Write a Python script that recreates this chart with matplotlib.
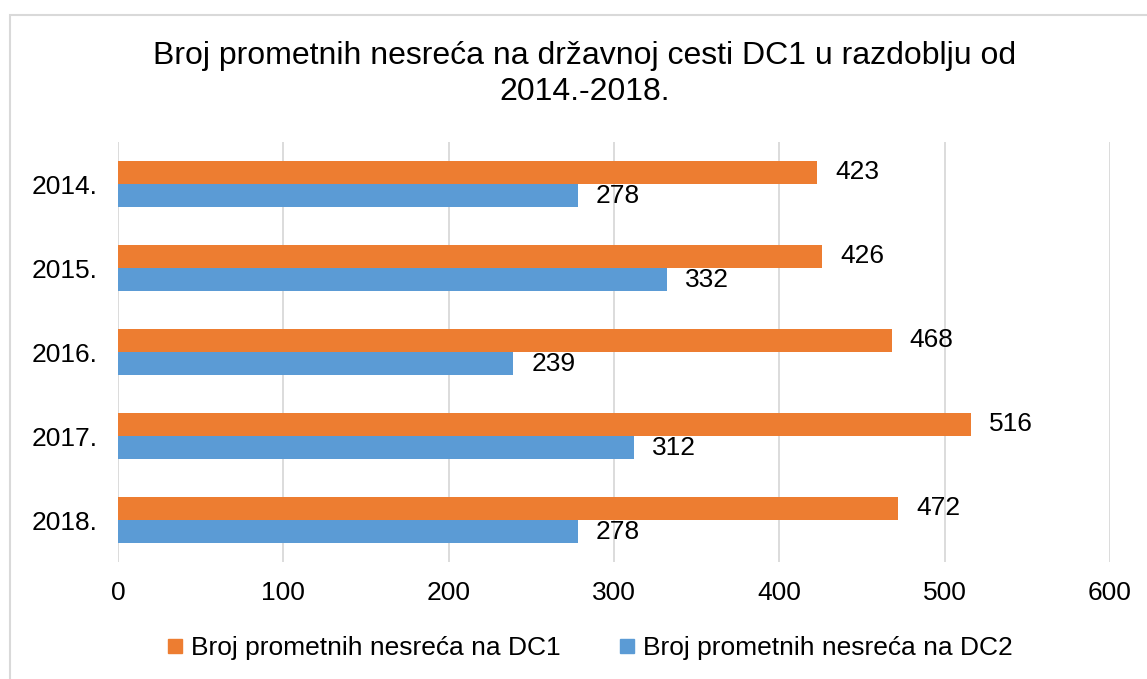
import matplotlib
matplotlib.use("Agg")
import matplotlib.pyplot as plt
from matplotlib.lines import Line2D
from matplotlib.patches import Rectangle

years = ["2014.", "2015.", "2016.", "2017.", "2018."]
dc1 = [423, 426, 468, 516, 472]
dc2 = [278, 332, 239, 312, 278]
series_names = ["Broj prometnih nesreća na DC1", "Broj prometnih nesreća na DC2"]
x_ticks = [0, 100, 200, 300, 400, 500, 600]
title = "Broj prometnih nesreća na državnoj cesti DC1 u razdoblju od\n2014.-2018."

orange = "#ED7D31"
blue = "#5B9BD5"
grid_c = "#D9D9D9"

plt.rcParams['font.family'] = ['Liberation Sans', 'DejaVu Sans']

W, H = 1147, 679
fig = plt.figure(figsize=(W / 100, H / 100), dpi=100)

# outer chart border (extends past right/bottom edges)
fig.patches.append(Rectangle((9.5 / W, -0.1), 1.2, 1 - 14.5 / H + 0.1,
                             transform=fig.transFigure, fill=False,
                             edgecolor="#D9D9D9", linewidth=1.5))

ax = fig.add_axes([118 / W, 1 - 562 / H, (1110 - 118) / W, (562 - 142) / H])
pos = list(range(len(years)))
h = 0.274
ax.barh([p - h / 2 for p in pos], dc1, height=h, color=orange, label=series_names[0], zorder=3)
ax.barh([p + h / 2 for p in pos], dc2, height=h, color=blue, label=series_names[1], zorder=3)

fs = 19
for p, v in zip(pos, dc1):
    ax.annotate(str(v), xy=(v, p - h / 2), xytext=(18, 0), textcoords="offset pixels",
                va="center", ha="left", fontsize=fs)
for p, v in zip(pos, dc2):
    ax.annotate(str(v), xy=(v, p + h / 2), xytext=(18, 0), textcoords="offset pixels",
                va="center", ha="left", fontsize=fs)

ax.set_xlim(0, 600)
ax.set_ylim(len(years) - 0.5, -0.5)
ax.set_xticks(x_ticks)
ax.set_xticklabels([str(t) for t in x_ticks])
ax.set_yticks(pos)
ax.set_yticklabels(years)
ax.tick_params(axis="both", length=0, labelsize=fs)
ax.tick_params(axis="x", pad=14)
ax.tick_params(axis="y", pad=15)
ax.grid(axis="x", color=grid_c, linewidth=1.3, zorder=0)
for s in ax.spines.values():
    s.set_visible(False)

fig.text(585 / W, 1 - 74 / H, title, ha="center", va="center", fontsize=23, linespacing=1.3)

handles = [Line2D([], [], marker="s", linestyle="none", markersize=9.5, color=orange),
           Line2D([], [], marker="s", linestyle="none", markersize=9.5, color=blue)]
fig.legend(handles, series_names, loc="center", bbox_to_anchor=(590 / W, 1 - 648 / H),
           ncol=2, frameon=False, fontsize=fs, handlelength=0.6, handletextpad=0.3,
           columnspacing=2.2)

fig.savefig("out.png", dpi=100)
